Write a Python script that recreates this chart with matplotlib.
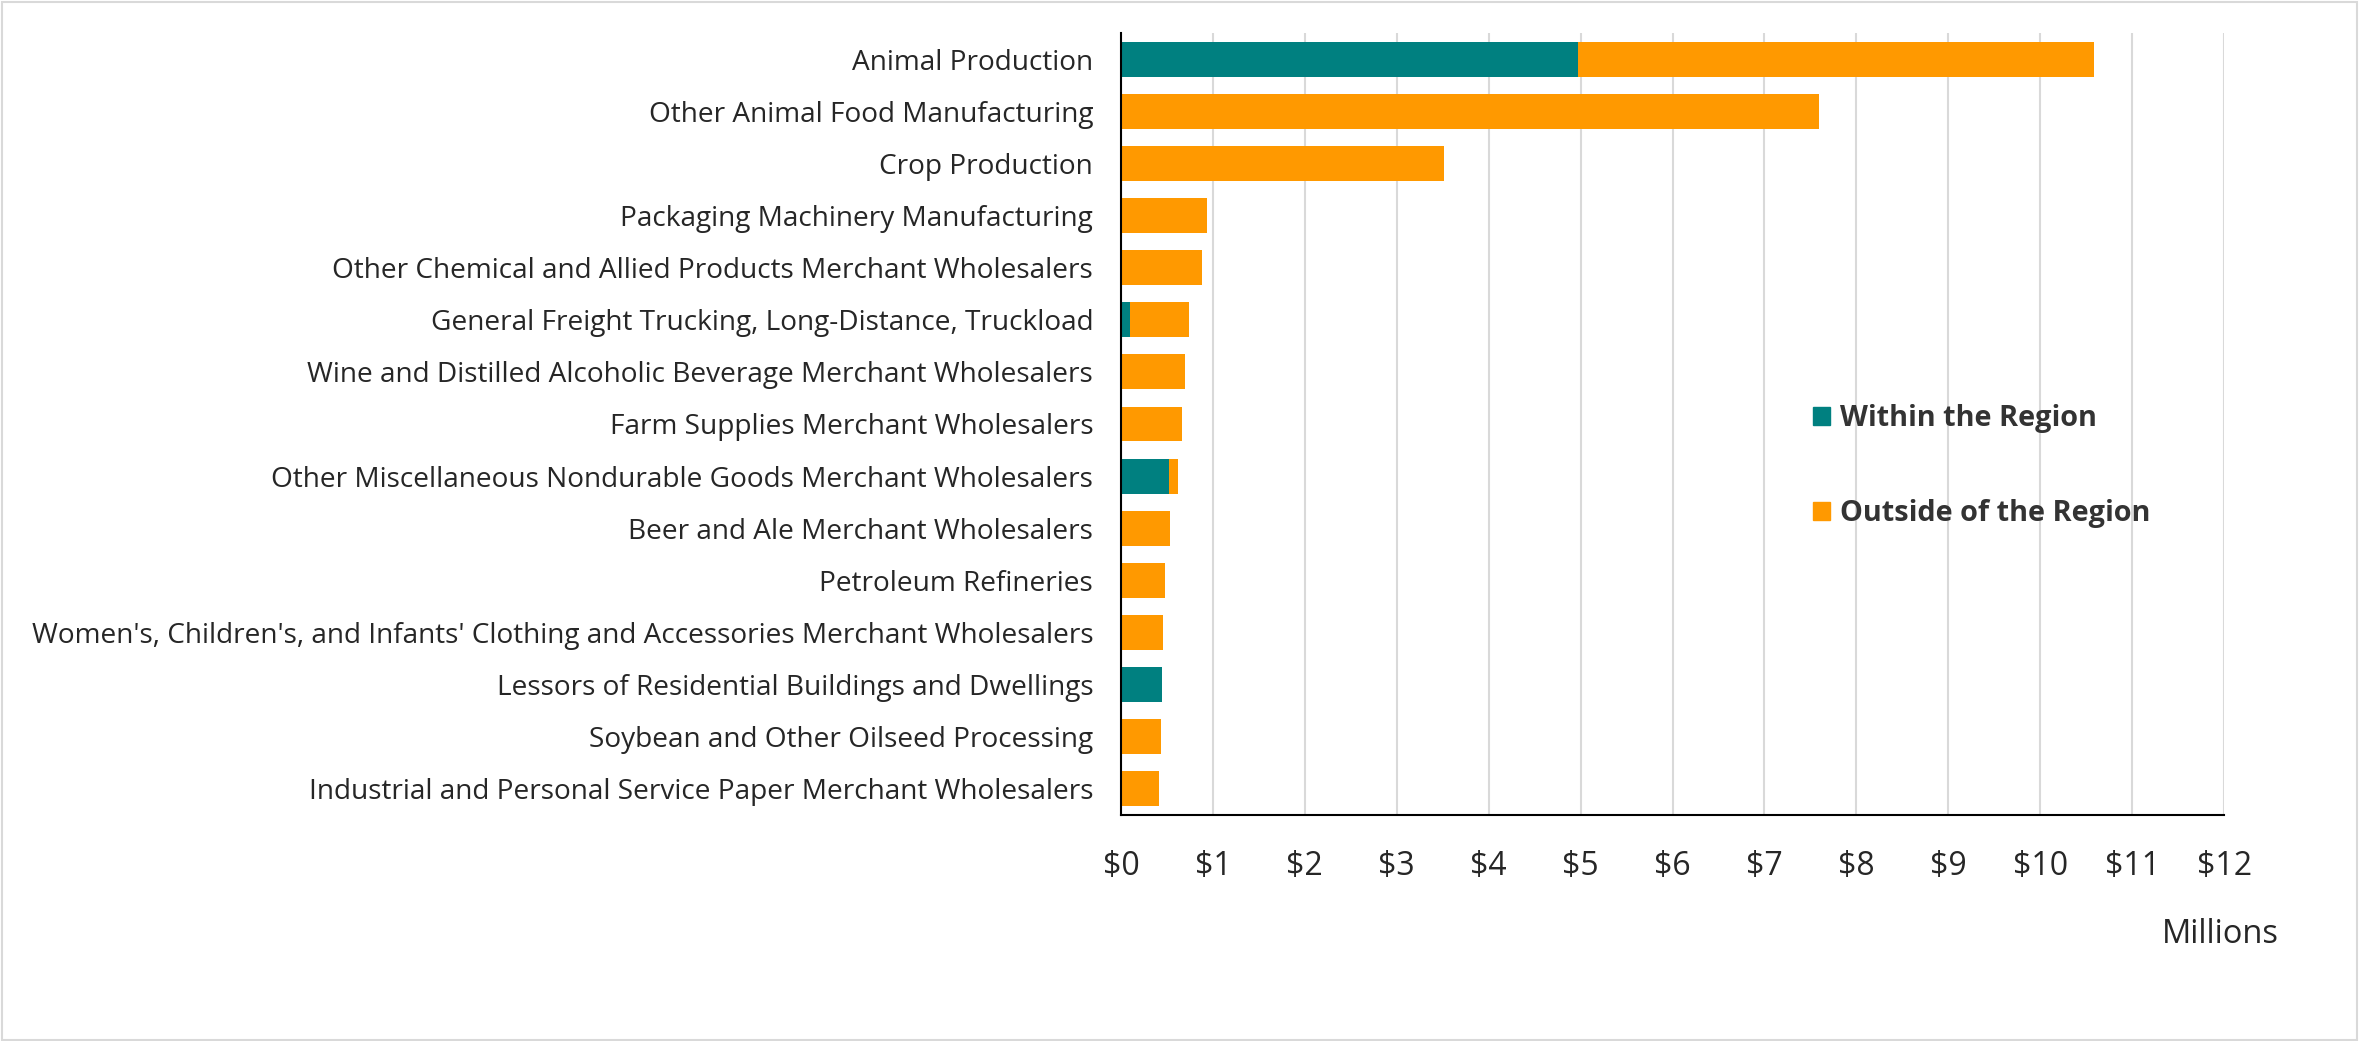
import matplotlib.pyplot as plt
from matplotlib.patches import Patch, Rectangle

plt.rcParams['font.family'] = ['Open Sans', 'DejaVu Sans']

# Data (millions of dollars)
categories = [
    "Animal Production",
    "Other Animal Food Manufacturing",
    "Crop Production",
    "Packaging Machinery Manufacturing",
    "Other Chemical and Allied Products Merchant Wholesalers",
    "General Freight Trucking, Long-Distance, Truckload",
    "Wine and Distilled Alcoholic Beverage Merchant Wholesalers",
    "Farm Supplies Merchant Wholesalers",
    "Other Miscellaneous Nondurable Goods Merchant Wholesalers",
    "Beer and Ale Merchant Wholesalers",
    "Petroleum Refineries",
    "Women's, Children's, and Infants' Clothing and Accessories Merchant Wholesalers",
    "Lessors of Residential Buildings and Dwellings",
    "Soybean and Other Oilseed Processing",
    "Industrial and Personal Service Paper Merchant Wholesalers",
]
within = [4.97, 0, 0, 0, 0, 0.10, 0, 0, 0.52, 0, 0, 0, 0.45, 0, 0]
outside = [5.62, 7.59, 3.51, 0.935, 0.885, 0.64, 0.70, 0.66, 0.105, 0.53, 0.48, 0.455, 0, 0.44, 0.41]
tick_labels = ["$" + str(i) for i in range(13)]

teal = "#008080"
orange = "#FF9900"

fig = plt.figure(figsize=(23.59, 10.41), dpi=100)
ax = fig.add_axes([0.4752, 0.2171, 0.4676, 0.7512])

y = list(range(len(categories)))
ax.barh(y, within, height=0.67, color=teal, label="Within the Region")
ax.barh(y, outside, left=within, height=0.67, color=orange, label="Outside of the Region")

ax.set_ylim(len(categories) - 0.5, -0.5)
ax.set_xlim(0, 12)
ax.set_yticks(y)
ax.set_yticklabels(categories, fontsize=20.2, color="#262626")
ax.set_xticks(range(13))
ax.set_xticklabels(tick_labels, fontsize=23, color="#262626")
ax.tick_params(axis="y", length=0, pad=20)
ax.tick_params(axis="x", length=0, pad=25)

ax.grid(axis="x", color="#D9D9D9", linewidth=1.5)
ax.set_axisbelow(True)
for s in ["top", "right"]:
    ax.spines[s].set_visible(False)
ax.spines["left"].set_color("black")
ax.spines["left"].set_linewidth(1.5)
ax.spines["bottom"].set_color("black")
ax.spines["bottom"].set_linewidth(1.5)

fig.text(0.9412, 0.102, "Millions", fontsize=23.5, color="#262626", ha="center", va="center")

handles = [Patch(color=teal), Patch(color=orange)]
leg = fig.legend(handles, ["Within the Region", "Outside of the Region"],
                 loc="upper left", bbox_to_anchor=(0.7575, 0.637), frameon=False,
                 prop={"size": 20.8, "weight": "bold"}, labelcolor="#333333",
                 handlelength=0.6, handleheight=0.6, handletextpad=0.35,
                 labelspacing=2.3)

fig.patches.append(Rectangle((0.001, 0.001), 0.998, 0.997, transform=fig.transFigure,
                             fill=False, edgecolor="#D9D9D9", linewidth=1.5))

fig.savefig("out.png", dpi=100)
